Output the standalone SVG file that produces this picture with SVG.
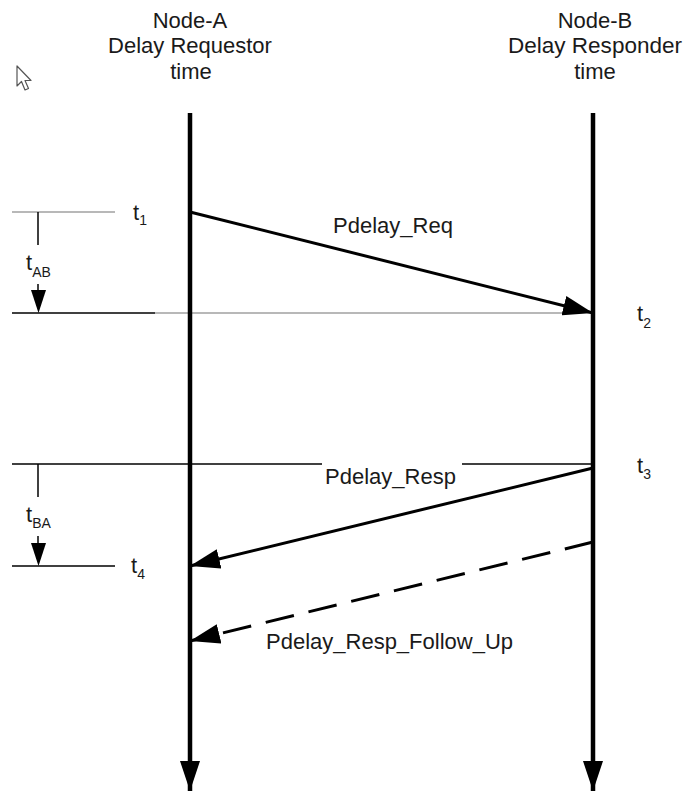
<svg xmlns="http://www.w3.org/2000/svg" width="683" height="792" viewBox="0 0 683 792">
<defs>
<marker id="ah" markerUnits="userSpaceOnUse" markerWidth="30" markerHeight="20" refX="30" refY="10" orient="auto">
<path d="M0,0 L30,10 L0,20 z" fill="#000"/>
</marker>
<style>
text{font-family:"Liberation Sans",Arial,sans-serif;fill:#1a1a1a}
.hdr{font-size:22px;text-anchor:middle}
.lbl{font-size:22px}
.sub{font-size:14px}
.life{stroke:#000;stroke-width:4.5;fill:none}
.msg{stroke:#000;stroke-width:3;fill:none}
.thin{stroke:#000;stroke-width:1.5;fill:none}
.grey{stroke:#a0a0a0;stroke-width:1.5;fill:none}
.tri{fill:#000}
</style>
</defs>
<rect width="683" height="792" fill="#fff"/>

<g id="cursor">
<path d="M17,66 L17,86 L21.5,81.5 L25,90 L28.5,88.5 L25,80.5 L31,80.5 Z" fill="#fff" stroke="#555" stroke-width="1.2" stroke-linejoin="round"/>
</g>

<g id="node-a">
<text class="hdr" x="190" y="28">Node-A</text>
<text class="hdr" x="190" y="53">Delay Requestor</text>
<text class="hdr" x="191" y="79">time</text>
</g>

<g id="node-b">
<text class="hdr" x="595" y="28">Node-B</text>
<text class="hdr" x="595" y="53" textLength="174" lengthAdjust="spacingAndGlyphs">Delay Responder</text>
<text class="hdr" x="595" y="79">time</text>
</g>

<g id="reference-lines">
<line class="grey" x1="12" y1="212" x2="115" y2="212"/>
<line class="thin" x1="12" y1="313" x2="155" y2="313"/>
<line class="grey" x1="155" y1="313" x2="565" y2="313"/>
<line class="thin" x1="12" y1="464" x2="322" y2="464"/>
<line class="thin" x1="462" y1="464" x2="593" y2="464"/>
<line class="thin" x1="12" y1="566" x2="115" y2="566"/>
</g>

<g id="delay-ab">
<line class="thin" x1="38" y1="212" x2="38" y2="245"/>
<text class="lbl" x="26" y="270">t<tspan class="sub" dy="7">AB</tspan></text>
<line class="thin" x1="38" y1="284" x2="38" y2="292"/>
<path class="tri" d="M31,290 L46,290 L38.5,313 Z"/>
</g>

<g id="delay-ba">
<line class="thin" x1="38" y1="464" x2="38" y2="497"/>
<text class="lbl" x="26" y="522">t<tspan class="sub" dy="6">BA</tspan></text>
<line class="thin" x1="38" y1="536" x2="38" y2="544"/>
<path class="tri" d="M31,543 L46,543 L38.5,566 Z"/>
</g>

<g id="timestamps">
<text class="lbl" x="133" y="220">t<tspan class="sub" dy="5">1</tspan></text>
<text class="lbl" x="637" y="321">t<tspan class="sub" dy="7">2</tspan></text>
<text class="lbl" x="637" y="473">t<tspan class="sub" dy="6">3</tspan></text>
<text class="lbl" x="131" y="573">t<tspan class="sub" dy="6">4</tspan></text>
</g>

<g id="connectors">
<line class="life" x1="190" y1="113" x2="190" y2="791" marker-end="url(#ah)"/>
<line class="life" x1="593" y1="113" x2="593" y2="791" marker-end="url(#ah)"/>
<line class="msg" x1="190" y1="212" x2="593" y2="313" marker-end="url(#ah)"/>
<line class="msg" x1="593" y1="468" x2="190" y2="566" marker-end="url(#ah)"/>
<line class="msg" x1="593" y1="542" x2="190" y2="641" stroke-dasharray="29 15" marker-end="url(#ah)"/>
</g>

<g id="message-labels">
<text class="lbl" x="333" y="233">Pdelay_Req</text>
<text class="lbl" x="325" y="484">Pdelay_Resp</text>
<text class="lbl" x="266" y="649">Pdelay_Resp_Follow_Up</text>
</g>
</svg>
